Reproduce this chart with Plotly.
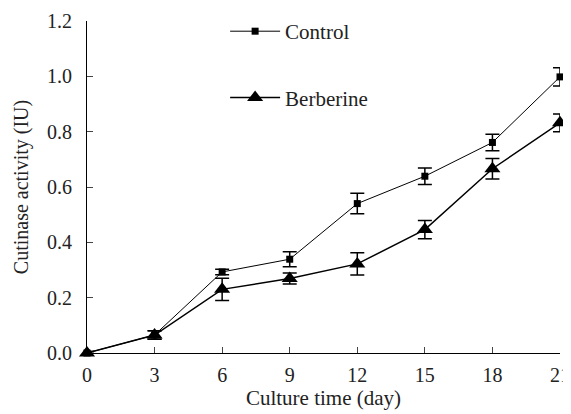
import plotly.graph_objects as go

days = [0, 3, 6, 9, 12, 15, 18, 21]
control = [0.0, 0.065, 0.293, 0.339, 0.54, 0.639, 0.761, 0.998]
control_err = [0.005, 0.015, 0.01, 0.027, 0.037, 0.03, 0.03, 0.033]
berberine = [0.0, 0.065, 0.23, 0.269, 0.322, 0.446, 0.666, 0.832]
berberine_err = [0.005, 0.015, 0.04, 0.02, 0.04, 0.033, 0.037, 0.032]
x_ticks = [0, 3, 6, 9, 12, 15, 18, 21]
y_ticks = [0.0, 0.2, 0.4, 0.6, 0.8, 1.0, 1.2]

font = "Liberation Serif, Times New Roman, serif"
fig = go.Figure()
fig.add_trace(go.Scatter(
    x=days, y=control, name="Control", mode="lines+markers",
    line=dict(color="black", width=1),
    marker=dict(symbol="square", size=7, color="black"),
    error_y=dict(type="data", array=control_err, color="black", thickness=1.5, width=7),
    cliponaxis=False, legendgroup="a"))
fig.add_trace(go.Scatter(
    x=days, y=berberine, name="Berberine", mode="lines+markers",
    line=dict(color="black", width=1.5),
    marker=dict(symbol="triangle-up", size=14, color="black"),
    error_y=dict(type="data", array=berberine_err, color="black", thickness=1.5, width=7),
    cliponaxis=False, legendgroup="b"))

fig.update_layout(
    width=571, height=414,
    margin=dict(l=79, r=19, t=13, b=69, autoexpand=False),
    paper_bgcolor="white", plot_bgcolor="white",
    font=dict(family=font, size=20, color="#222"),
    showlegend=True,
    legend=dict(x=0.292, y=1.03, xanchor="left", yanchor="top",
                bgcolor="rgba(0,0,0,0)", font=dict(size=21, family=font),
                tracegroupgap=36, itemwidth=50),
    xaxis=dict(range=[0, 21], tickvals=x_ticks, ticks="inside", ticklen=6,
               showline=True, linecolor="black", linewidth=1.2, showgrid=False,
               zeroline=False, ticklabelstandoff=4, automargin=False,
               tickfont=dict(size=20, family=font),
               title=dict(text="Culture time (day)", standoff=4,
                          font=dict(size=21, family=font))),
    yaxis=dict(range=[0, 1.2], tickvals=y_ticks, tickformat=".1f", ticks="inside",
               ticklen=6, showline=True, linecolor="black", linewidth=1.2,
               showgrid=False, zeroline=False, ticklabelstandoff=10, automargin=False,
               tickfont=dict(size=20, family=font),
               title=dict(text="Cutinase activity (IU)", standoff=12,
                          font=dict(size=20, family=font))),
)
fig.write_html("out.html")
